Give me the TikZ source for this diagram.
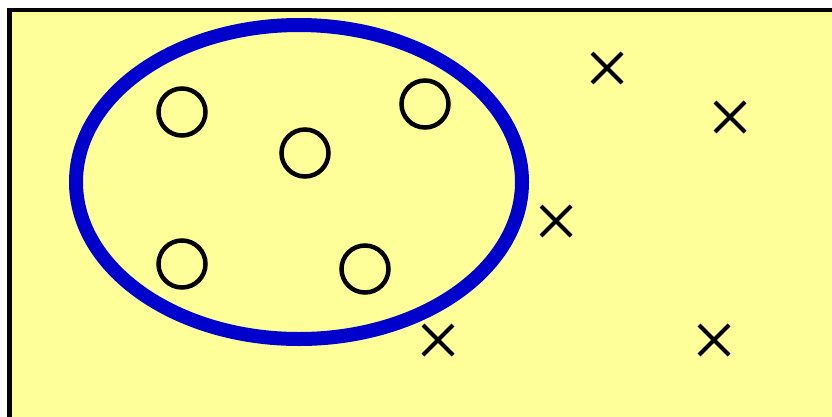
\documentclass[tikz,border=0pt]{standalone}
\usepackage{xcolor}
\usepackage{tikz}
\definecolor{giallo}{HTML}{FFFF99}
\definecolor{blu}{HTML}{0000CC}

\begin{document}
\begin{tikzpicture}[x=1pt, y=-1pt,
            cerchio/.style={draw=black, line width=4.5pt},
            croce/.style={draw=black, line width=4pt}]
        % Dimensioni: r = raggio cerchi, d = semilato croci
        \def\r{23.5} \def\d{15}
        \useasboundingbox (0,0) rectangle (832,416);

        % Sfondo
        \draw[fill=giallo, line width=4.5pt] (9.5,10) rectangle (900,480);

        % Ellisse
        \coordinate (O) at (299,182);
        \draw[blu, line width=14pt] (O) ellipse [x radius=223, y radius=157];

        % Cerchi
        \foreach \x/\y in {182/112, 305/153, 425/104, 182/264, 365/269}{
                \draw[cerchio] (\x,\y) circle (\r);
            }

        % Croci
        \foreach \x/\y in {607/68, 730/117, 556/221, 438/340, 714/340}{
                \draw[croce] (\x-\d,\y-\d) -- (\x+\d,\y+\d);
                \draw[croce] (\x-\d,\y+\d) -- (\x+\d,\y-\d);
            }
    \end{tikzpicture}
\end{document}
